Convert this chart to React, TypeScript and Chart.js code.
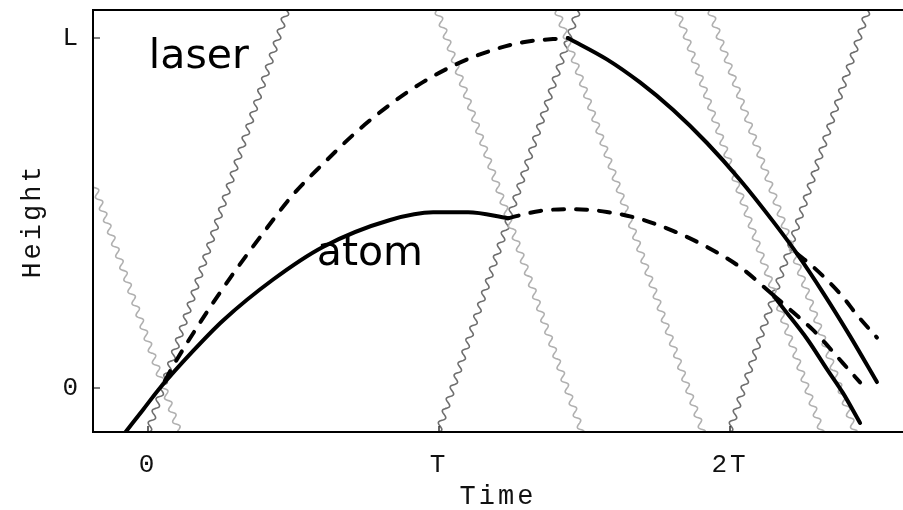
import React, { useEffect, useRef } from 'react';
import { Chart, registerables } from 'chart.js';

Chart.register(...registerables);

// Axis ranges (time in units of T, height in units of L)
const X_MIN = -0.189;
const X_MAX = 2.5945;
const Y_MIN = -0.1257;
const Y_MAX = 1.08;

const xTickValues = [0, 1, 2];
const xTickLabels = ['0', 'T', '2T'];
const yTickValues = [0, 1];
const yTickLabels = ['0', 'L'];

type P = [number, number];

// Atom trajectories: [time, height]
const lowerArmFirst: P[] = [
  [-0.079, -0.128], [-0.017, -0.062], [0.041, 0.0], [0.155, 0.106], [0.258, 0.193],
  [0.43, 0.31], [0.601, 0.403], [0.832, 0.48], [0.98, 0.502], [1.1, 0.502], [1.237, 0.485],
];
const upperArmFirst: P[] = [
  [0.058, 0.02], [0.082, 0.057], [0.179, 0.187], [0.282, 0.314], [0.395, 0.442], [0.498, 0.552],
  [0.601, 0.64], [0.718, 0.733], [0.832, 0.81], [0.945, 0.874], [1.062, 0.926], [1.175, 0.963],
  [1.289, 0.988], [1.443, 1.0],
];
const upperArmSecond: P[] = [
  [1.443, 1.0], [1.577, 0.939], [1.691, 0.873], [1.804, 0.795], [1.921, 0.7], [2.034, 0.595],
  [2.148, 0.476], [2.23, 0.384], [2.32, 0.272], [2.412, 0.149], [2.505, 0.017],
];
const upperArmKicked: P[] = [
  [2.23, 0.384], [2.275, 0.354], [2.333, 0.309], [2.388, 0.26], [2.436, 0.209], [2.505, 0.144],
];
const lowerArmSecond: P[] = [
  [1.237, 0.485], [1.347, 0.506], [1.464, 0.511], [1.577, 0.503], [1.691, 0.483], [1.804, 0.449],
  [1.921, 0.403], [2.034, 0.346], [2.148, 0.266],
];
const lowerArmOut: P[] = [
  [2.148, 0.266], [2.216, 0.217], [2.285, 0.166], [2.333, 0.123], [2.388, 0.071], [2.447, 0.016],
];
const lowerArmKicked: P[] = [
  [2.148, 0.266], [2.182, 0.229], [2.265, 0.14], [2.333, 0.054], [2.388, -0.014], [2.447, -0.1],
];

// Laser pulses: [start, end] as [time, height]
const laserUpward: [P, P][] = [
  [[0.0, -0.126], [0.478, 1.08]],
  [[0.997, -0.126], [1.478, 1.08]],
  [[1.997, -0.126], [2.474, 1.08]],
];
const laserDownward: [P, P][] = [
  [[-0.189, 0.589], [0.107, -0.126]],
  [[0.993, 1.08], [1.491, -0.126]],
  [[1.405, 1.08], [1.907, -0.126]],
  [[1.818, 1.08], [2.316, -0.126]],
  [[1.931, 1.08], [2.43, -0.126]],
];

const annotationTexts = ['laser', 'atom'];
const annotationAt: P[] = [[0.003, 0.914], [0.58, 0.352]];

const MONO = '"Liberation Mono", "DejaVu Sans Mono", monospace';
const SANS = '"DejaVu Sans", sans-serif';

const toXY = (arr: P[]) => arr.map(([x, y]) => ({ x, y }));

function atomDataset(arr: P[], dashed: boolean) {
  return {
    data: toXY(arr),
    showLine: true,
    borderColor: '#000',
    borderWidth: 4,
    borderDash: dashed ? [11, 12] : [],
    borderCapStyle: 'round',
    borderJoinStyle: 'round',
    pointRadius: 0,
    cubicInterpolationMode: 'monotone',
    fill: false,
  };
}

function laserDataset(seg: [P, P], color: string) {
  return {
    data: toXY(seg),
    showLine: false,
    pointRadius: 0,
    laser: true,
    laserColor: color,
  };
}

const wavePlugin = {
  id: 'laserWaves',
  beforeDatasetsDraw(chart: any) {
    const { ctx, chartArea: ca } = chart;
    ctx.save();
    ctx.letterSpacing = '0px';
    ctx.beginPath();
    ctx.rect(ca.left, ca.top, ca.right - ca.left, ca.bottom - ca.top);
    ctx.clip();
    const AMP = 2.8;
    const WAVE = 12.5;
    chart.data.datasets.forEach((ds: any, i: number) => {
      if (!ds.laser) return;
      const pts = chart.getDatasetMeta(i).data;
      const a = pts[0];
      const b = pts[1];
      const dx = b.x - a.x;
      const dy = b.y - a.y;
      const len = Math.hypot(dx, dy);
      const ux = dx / len;
      const uy = dy / len;
      const nx = -uy;
      const ny = ux;
      ctx.beginPath();
      for (let s = 0; s <= len; s += 0.5) {
        const w = AMP * Math.sin((2 * Math.PI * s) / WAVE);
        const x = a.x + ux * s + nx * w;
        const y = a.y + uy * s + ny * w;
        if (s === 0) ctx.moveTo(x, y);
        else ctx.lineTo(x, y);
      }
      ctx.strokeStyle = ds.laserColor;
      ctx.lineWidth = 1.6;
      ctx.lineJoin = 'round';
      ctx.stroke();
    });
    ctx.restore();
  },
};

const framePlugin = {
  id: 'frame',
  beforeDraw(chart: any) {
    chart.ctx.letterSpacing = '3px';
  },
  afterDatasetsDraw(chart: any) {
    const { ctx, chartArea: ca, scales } = chart;
    ctx.save();
    ctx.letterSpacing = '0px';
    ctx.strokeStyle = '#000';
    ctx.lineWidth = 2;
    ctx.beginPath();
    ctx.moveTo(ca.right + 5, ca.top);
    ctx.lineTo(ca.left, ca.top);
    ctx.lineTo(ca.left, ca.bottom);
    ctx.lineTo(ca.right + 5, ca.bottom);
    ctx.stroke();
    ctx.lineWidth = 1.2;
    ctx.beginPath();
    xTickValues.forEach((v) => {
      const px = scales.x.getPixelForValue(v);
      ctx.moveTo(px, ca.bottom);
      ctx.lineTo(px, ca.bottom - 6);
    });
    yTickValues.forEach((v) => {
      const py = scales.y.getPixelForValue(v);
      ctx.moveTo(ca.left, py);
      ctx.lineTo(ca.left + 7, py);
    });
    ctx.stroke();

    ctx.fillStyle = '#000';
    ctx.font = `41px ${SANS}`;
    ctx.textBaseline = 'alphabetic';
    ctx.textAlign = 'left';
    annotationTexts.forEach((txt, i) => {
      const [t, h] = annotationAt[i];
      ctx.fillText(txt, scales.x.getPixelForValue(t), scales.y.getPixelForValue(h));
    });
    ctx.restore();
  },
};

export default function App() {
  const ref = useRef<HTMLCanvasElement | null>(null);

  useEffect(() => {
    if (!ref.current) return;
    const datasets: any[] = [
      atomDataset(lowerArmFirst, false),
      atomDataset(upperArmFirst, true),
      atomDataset(upperArmSecond, false),
      atomDataset(upperArmKicked, true),
      atomDataset(lowerArmSecond, true),
      atomDataset(lowerArmOut, true),
      atomDataset(lowerArmKicked, false),
      ...laserUpward.map((s) => laserDataset(s, '#6e6e6e')),
      ...laserDownward.map((s) => laserDataset(s, '#b0b0b0')),
    ];
    const tickFont = { family: MONO, size: 26 };
    const chart = new Chart(ref.current, {
      type: 'scatter',
      data: { datasets },
      options: {
        animation: false,
        responsive: false,
        maintainAspectRatio: false,
        layout: { padding: { top: 10, right: 0, left: 0, bottom: 0 } },
        plugins: { legend: { display: false }, tooltip: { enabled: false } },
        scales: {
          x: {
            type: 'linear',
            min: X_MIN,
            max: X_MAX,
            afterFit(s: any) {
              s.height = 78;
              s.paddingLeft = 0;
              s.paddingRight = 0;
            },
            afterBuildTicks(s: any) { s.ticks = xTickValues.map((v) => ({ value: v })); },
            ticks: {
              font: tickFont,
              color: '#111',
              padding: 18,
              maxRotation: 0,
              callback: (v: any) => xTickLabels[xTickValues.indexOf(Number(v))] ?? '',
            },
            grid: { display: false, drawTicks: false },
            border: { display: false },
            title: {
              display: true,
              text: 'Time',
              font: { family: MONO, size: 27, lineHeight: 1 },
              color: '#111',
              padding: { top: 0, bottom: 0 },
            },
          },
          y: {
            type: 'linear',
            min: Y_MIN,
            max: Y_MAX,
            afterFit(s: any) {
              s.width = 93;
              s.paddingTop = 0;
              s.paddingBottom = 0;
            },
            afterBuildTicks(s: any) { s.ticks = yTickValues.map((v) => ({ value: v })); },
            ticks: {
              font: tickFont,
              color: '#111',
              padding: 12,
              callback: (v: any) => yTickLabels[yTickValues.indexOf(Number(v))] ?? '',
            },
            grid: { display: false, drawTicks: false },
            border: { display: false },
            title: {
              display: true,
              text: 'Height',
              font: { family: MONO, size: 27, lineHeight: 1 },
              color: '#111',
              padding: { top: 19, bottom: 0 },
            },
          },
        },
      } as any,
      plugins: [wavePlugin, framePlugin],
    });
    return () => chart.destroy();
  }, []);

  return (
    <div style={{ position: 'absolute', left: 0, top: 0, width: 903, height: 510, background: '#fff' }}>
      <canvas ref={ref} width={903} height={510} style={{ display: 'block' }} />
    </div>
  );
}
